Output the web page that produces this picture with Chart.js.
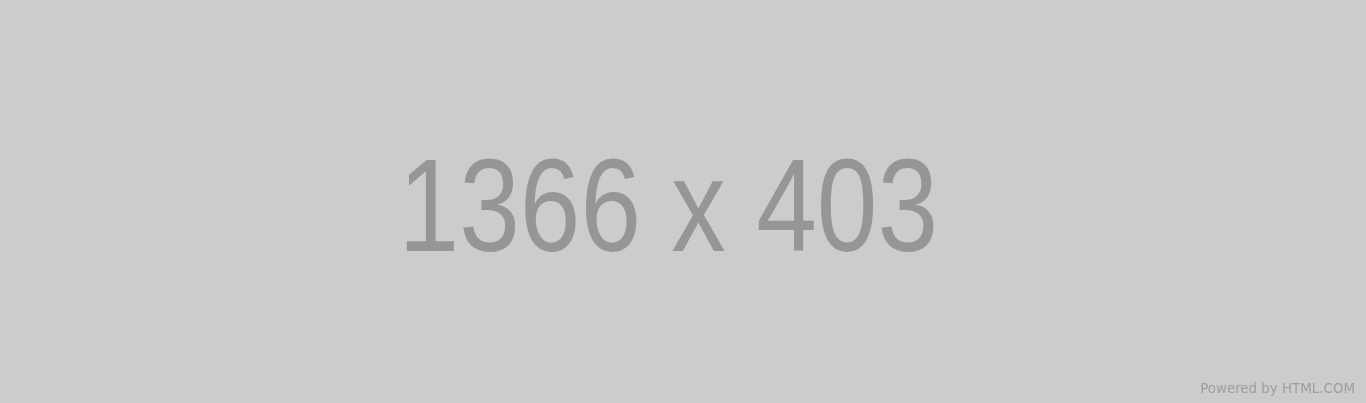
<!DOCTYPE html>
<html>
<head>
<meta charset="utf-8">
<title>1366 x 403</title>
<script src="https://cdn.jsdelivr.net/npm/chart.js@4.4.0/dist/chart.umd.min.js"></script>
<style>
  html, body { margin: 0; padding: 0; background: #cccccc; overflow: hidden; }
  #wrap { width: 1366px; height: 403px; position: relative; }
</style>
</head>
<body>
<div id="wrap"><canvas id="placeholderChart"></canvas></div>
<script>
// placeholder text pieces
var sizeWords = ['1366', 'x', '403'];
var creditWords = ['Powered', 'by', 'HTML.COM'];
// no marks in this picture: empty category and value lists
var categories = [];
var values = [];

// draws the grey background and the two lines of text
var placeholderText = {
    id: 'placeholderText',
    beforeDraw: function (chart) {
        var ctx = chart.ctx;
        ctx.save();
        ctx.fillStyle = '#cccccc';
        ctx.fillRect(0, 0, chart.width, chart.height);
        ctx.restore();
    },
    afterDraw: function (chart) {
        var ctx = chart.ctx;
        var big = sizeWords.join(' ');
        ctx.save();
        ctx.font = '131px "Liberation Sans", Arial, sans-serif';
        ctx.fillStyle = '#969696';
        ctx.textBaseline = 'alphabetic';
        ctx.textAlign = 'left';
        var m = ctx.measureText(big);
        var inkLeft = -m.actualBoundingBoxLeft;
        var inkW = m.actualBoundingBoxRight + m.actualBoundingBoxLeft;
        var sx = 528 / inkW;
        var cx = chart.width / 2 - 13;
        ctx.translate(cx - (inkW * sx) / 2 - inkLeft * sx, 251);
        ctx.scale(sx, 1);
        ctx.fillText(big, 0, 0);
        ctx.restore();

        ctx.save();
        ctx.font = '13.4px "DejaVu Sans", sans-serif';
        ctx.fillStyle = '#9e9e9e';
        ctx.textAlign = 'right';
        ctx.textBaseline = 'alphabetic';
        ctx.fillText(creditWords.join(' '), chart.width - 11, 393);
        ctx.restore();
    }
};

document.addEventListener('DOMContentLoaded', function () {
    var canvas = document.getElementById('placeholderChart');
    new Chart(canvas.getContext('2d'), {
        type: 'bar',
        data: {
            labels: categories,
            datasets: [{ data: values, backgroundColor: '#969696' }]
        },
        options: {
            responsive: true,
            maintainAspectRatio: false,
            animation: false,
            layout: { padding: 0 },
            plugins: {
                legend: { display: false },
                tooltip: { enabled: false }
            },
            scales: {
                x: { display: false },
                y: { display: false }
            }
        },
        plugins: [placeholderText]
    });
});
</script>
</body>
</html>
